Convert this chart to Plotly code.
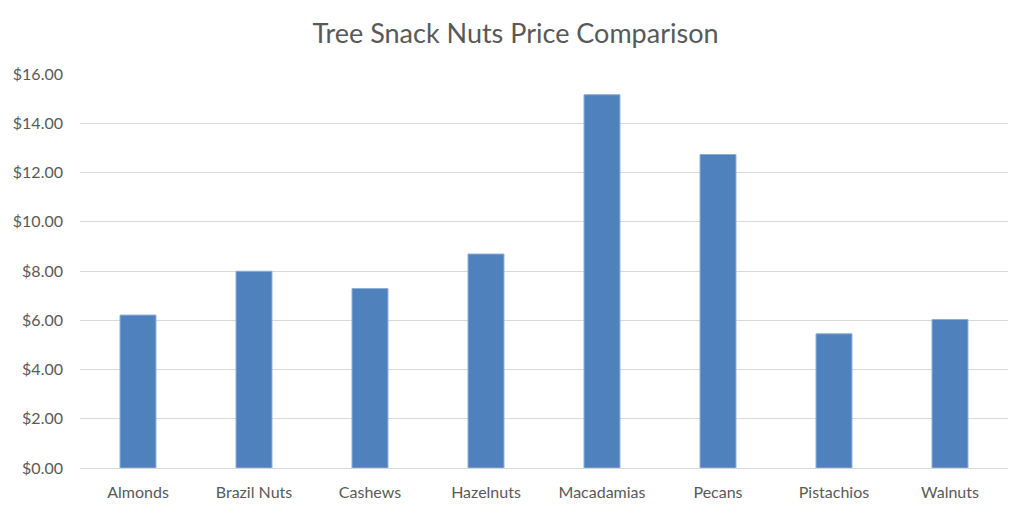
import plotly.graph_objects as go

categories = ["Almonds", "Brazil Nuts", "Cashews", "Hazelnuts", "Macadamias", "Pecans", "Pistachios", "Walnuts"]
prices = [6.21, 7.99, 7.29, 8.69, 15.16, 12.73, 5.45, 6.03]
y_ticks = [0, 2, 4, 6, 8, 10, 12, 14, 16]
y_tick_labels = ["$%.2f" % v for v in y_ticks]
title_text = "Tree Snack Nuts Price Comparison"

fig = go.Figure(go.Bar(
    x=categories, y=prices,
    marker=dict(color="#4f81bd", line=dict(color="#8eaed8", width=1)),
))

fig.update_layout(
    width=1031, height=517,
    margin=dict(l=80, r=23, t=74, b=49),
    paper_bgcolor="white", plot_bgcolor="white",
    bargap=0.69,
    showlegend=False,
    font=dict(family="Lato", color="#595959", size=16),
    title=dict(text=title_text, x=0.5, xanchor="center", y=0.935, yanchor="middle",
               font=dict(family="Lato", size=27, color="#595959")),
)
fig.update_yaxes(range=[0, 16], tickvals=y_ticks, ticktext=y_tick_labels,
                 showgrid=True, gridcolor="#d9d9d9", gridwidth=1,
                 zeroline=False, showline=False, ticks="", ticklabelstandoff=16)
fig.update_xaxes(showline=True, linecolor="#d9d9d9", linewidth=1, ticks="",
                 ticklabelstandoff=10)

fig.write_html("out.html")
